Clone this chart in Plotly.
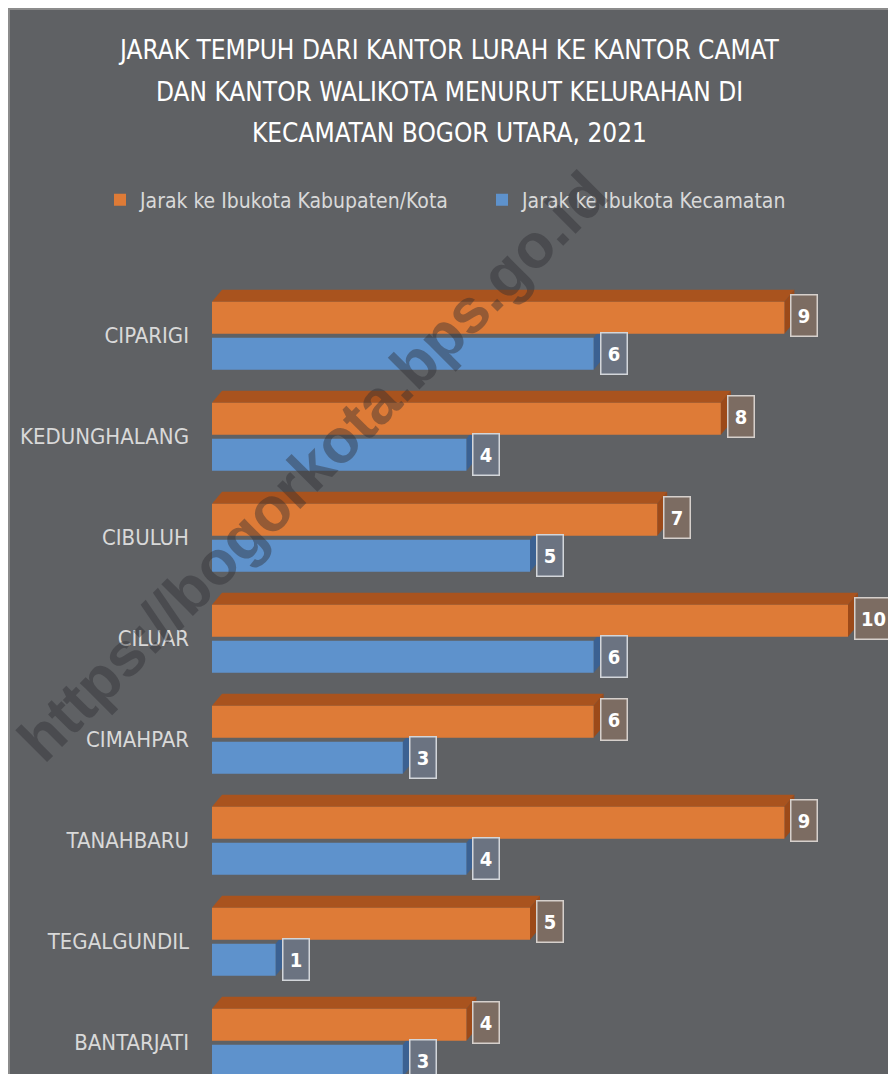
import plotly.graph_objects as go

categories = ["CIPARIGI", "KEDUNGHALANG", "CIBULUH", "CILUAR",
              "CIMAHPAR", "TANAHBARU", "TEGALGUNDIL", "BANTARJATI"]
jarak_kota = [9, 8, 7, 10, 6, 9, 5, 4]
jarak_kecamatan = [6, 4, 5, 6, 3, 4, 1, 3]
series_names = ["Jarak ke Ibukota Kabupaten/Kota", "Jarak ke Ibukota Kecamatan"]
title_lines = ["JARAK TEMPUH DARI KANTOR LURAH KE KANTOR CAMAT",
               "DAN KANTOR WALIKOTA MENURUT KELURAHAN DI",
               "KECAMATAN BOGOR UTARA, 2021"]
watermark = "https://bogorkota.bps.go.id"

FONT = "Liberation Sans Narrow, DejaVu Sans Condensed, Arial Narrow, sans-serif"
BG = "#5f6164"
ORANGE = "#de7b37"
ORANGE_TOP = "#a9531e"
ORANGE_SIDE = "#9c4a19"
BLUE = "#5e92cc"
BLUE_SIDE = "#3b6192"

# page body has an 8px margin, so the figure is drawn 8px right/down
OFF = 8
W, H = 896 - OFF, 1074 - OFF
ML, MR, MT, MB = 212 - OFF, 6, 260 - OFF, 0
XMAX = (W - ML - MR) / 63.6
YR = [7.31, -0.75]

pos = list(range(len(categories)))
BW = 0.317
OFF_O = -0.337
OFF_B = 0.02
DX = 10 / 63.6
DY = 12 / 101.0

fig = go.Figure()
fig.add_trace(go.Bar(y=pos, x=jarak_kota, orientation="h", name=series_names[0],
                     offset=OFF_O, width=BW, marker=dict(color=ORANGE, line=dict(width=0))))
fig.add_trace(go.Bar(y=pos, x=jarak_kecamatan, orientation="h", name=series_names[1],
                     offset=OFF_B, width=BW, marker=dict(color=BLUE, line=dict(width=0))))

shapes = []
for i, v in enumerate(jarak_kota):
    yt = i + OFF_O
    yb = yt + BW
    shapes.append(dict(type="path", xref="x", yref="y", layer="below", line=dict(width=0),
                       fillcolor=ORANGE_TOP,
                       path=f"M 0,{yt} L {v},{yt} L {v+DX},{yt-DY} L {DX},{yt-DY} Z"))
    shapes.append(dict(type="path", xref="x", yref="y", layer="below", line=dict(width=0),
                       fillcolor=ORANGE_SIDE,
                       path=f"M {v},{yt} L {v},{yb} L {v+DX},{yb-DY} L {v+DX},{yt-DY} Z"))
for i, v in enumerate(jarak_kecamatan):
    yt = i + OFF_B
    yb = yt + BW
    shapes.append(dict(type="path", xref="x", yref="y", layer="below", line=dict(width=0),
                       fillcolor=BLUE_SIDE,
                       path=f"M {v},{yt} L {v},{yb} L {v+DX},{yb-DY} L {v+DX},{yt-DY} Z"))


def px_x(p):
    return (p - OFF - ML) / (W - ML - MR)


def px_y(p):
    return (H - MB - (p - OFF)) / (H - MT - MB)


shapes.append(dict(type="rect", xref="paper", yref="paper", layer="below",
                   x0=px_x(9), x1=px_x(893), y0=px_y(1080), y1=px_y(9),
                   line=dict(color="#8c8c8c", width=2), fillcolor="rgba(0,0,0,0)"))

annotations = []
for k, line in enumerate(title_lines):
    annotations.append(dict(text=line, xref="paper", yref="paper", x=px_x(449),
                            y=px_y([50, 92, 133][k]), xanchor="center", yanchor="middle",
                            showarrow=False, font=dict(family=FONT, size=26, color="#ffffff")))


def label(v, y, bg, border):
    n = len(str(v))
    w = 12 + 11 * n
    return dict(text=f"<b>{v}</b>", x=v, y=y, xref="x", yref="y",
                xshift=6 + (w + 5) / 2, xanchor="center", yanchor="middle",
                showarrow=False, width=w, height=38, borderpad=1,
                bgcolor=bg, bordercolor=border, borderwidth=1.5,
                font=dict(family=FONT, size=20, color="#ffffff"))


for i, v in enumerate(jarak_kota):
    annotations.append(label(v, i + OFF_O + BW / 2 - 0.02, "#7c6c62", "#d6d0cc"))
for i, v in enumerate(jarak_kecamatan):
    annotations.append(label(v, i + OFF_B + BW / 2, "#6b7381", "#d3d6da"))

annotations.append(dict(text=f"<b>{watermark}</b>", xref="paper", yref="paper",
                        x=px_x(312), y=px_y(466), xanchor="center", yanchor="middle",
                        textangle=-45, showarrow=False,
                        font=dict(family="Liberation Sans, Arial, sans-serif", size=62,
                                  color="rgba(45,45,50,0.42)")))

fig.update_layout(
    width=W, height=H,
    margin=dict(l=ML, r=MR, t=MT, b=MB, autoexpand=False),
    paper_bgcolor=BG, plot_bgcolor="rgba(0,0,0,0)",
    barmode="overlay",
    showlegend=True,
    legend=dict(orientation="h", x=px_x(100), y=px_y(200), xanchor="left", yanchor="middle",
                font=dict(family=FONT, size=21, color="#d9d9d9"), bgcolor="rgba(0,0,0,0)",
                entrywidth=337, entrywidthmode="pixels", traceorder="normal"),
    xaxis=dict(range=[0, XMAX], visible=False, fixedrange=True),
    yaxis=dict(range=YR, tickmode="array", tickvals=pos, ticktext=categories,
               showgrid=False, zeroline=False, showline=False, ticks="",
               ticklabelstandoff=22,
               tickfont=dict(family=FONT, size=22, color="#d9d9d9")),
    shapes=shapes,
    annotations=annotations,
)

fig.write_html("out.html")
